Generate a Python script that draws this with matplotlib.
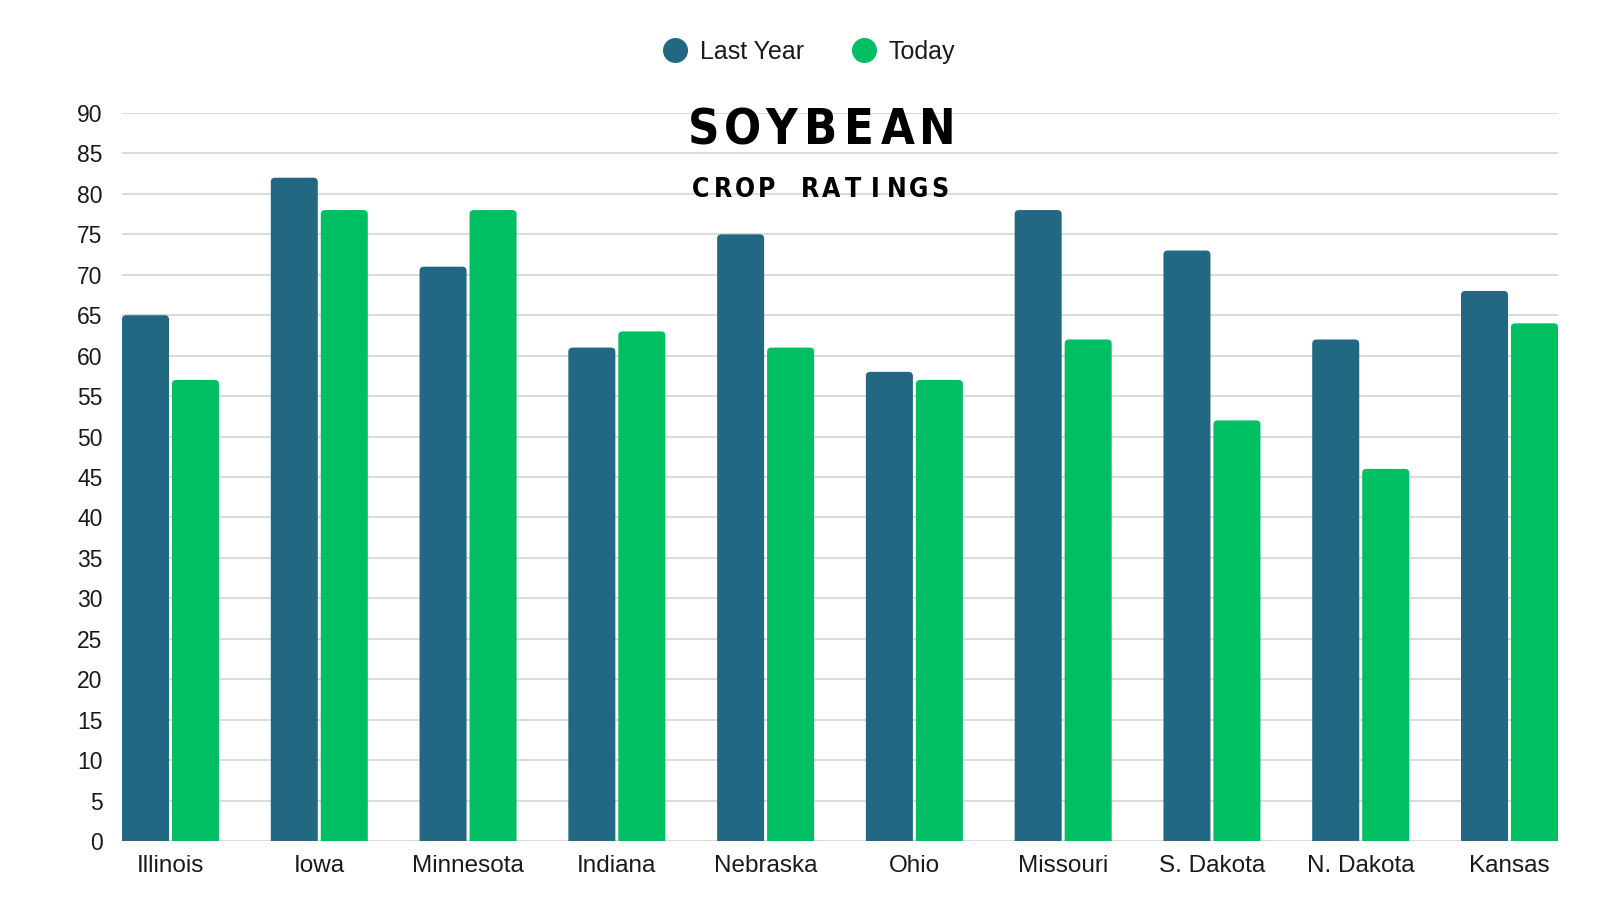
import numpy as np
import matplotlib
matplotlib.use("Agg")
import matplotlib.pyplot as plt
from matplotlib.lines import Line2D
from matplotlib.patches import FancyBboxPatch

# chart data
states = ["Illinois", "Iowa", "Minnesota", "Indiana", "Nebraska",
          "Ohio", "Missouri", "S. Dakota", "N. Dakota", "Kansas"]
last_year = [65, 82, 71, 61, 75, 58, 78, 73, 62, 68]
today = [57, 78, 78, 63, 61, 57, 62, 52, 46, 64]
y_ticks = list(range(0, 95, 5))

dark = "#236882"
green = "#00BF63"
text_col = "#1a1a1a"

plt.rcParams["font.family"] = ["Liberation Sans", "DejaVu Sans"]

fig = plt.figure(figsize=(16, 9), dpi=100)
ax = fig.add_axes([0.07625, 0.06556, 0.8975, 0.80888])

x = np.arange(len(states))
bw = 0.316
off = 0.168

bars1 = ax.bar(x - off, last_year, bw, color=dark)
bars2 = ax.bar(x + off, today, bw, color=green)

# swap the square bars for ones with slightly rounded tops
for bars in (bars1, bars2):
    for b in bars:
        b.set_visible(False)
        p = FancyBboxPatch((b.get_x(), -2), b.get_width(), b.get_height() + 2,
                           boxstyle="round,pad=0,rounding_size=0.03",
                           mutation_aspect=17, facecolor=b.get_facecolor(),
                           edgecolor="none", zorder=2)
        ax.add_patch(p)

ax.set_xlim(-0.326, len(states) - 1 + 0.326)
ax.set_ylim(0, 90)
ax.set_yticks(y_ticks)
ax.set_xticks(x)
ax.set_xticklabels(states)
ax.tick_params(axis="both", length=0, colors=text_col)
ax.tick_params(axis="y", pad=14, labelsize=16.5)
ax.tick_params(axis="x", pad=10, labelsize=17.5)
ax.yaxis.grid(True, color="#d4d4d4", linewidth=1.2)
ax.set_axisbelow(True)
for s in ax.spines.values():
    s.set_visible(False)

# legend
handles = [Line2D([], [], linestyle="none", marker="o", markersize=18,
                  markerfacecolor=dark, markeredgecolor="none"),
           Line2D([], [], linestyle="none", marker="o", markersize=18,
                  markerfacecolor=green, markeredgecolor="none")]
fig.legend(handles, ["Last Year", "Today"], loc="center", ncol=2,
           bbox_to_anchor=(0.5055, 0.942), frameon=False, fontsize=18,
           handlelength=1.0, handletextpad=0.5, columnspacing=1.9,
           labelcolor=text_col)

# title, letter spaced, condensed bold
for t, xs, y, size in [("SOYBEAN", (704 / 1600, 937 / 1600), 0.855, 35),
                       ("CROP RATINGS", (701 / 1600, 940 / 1600), 0.789, 19)]:
    for ch, cx in zip(t, np.linspace(xs[0], xs[1], len(t))):
        fig.text(cx, y, ch, ha="center", va="center", fontsize=size,
                 fontweight="bold", fontstretch="condensed",
                 family="DejaVu Sans", color="#000000")

fig.savefig("out.png", dpi=100, facecolor="white")
